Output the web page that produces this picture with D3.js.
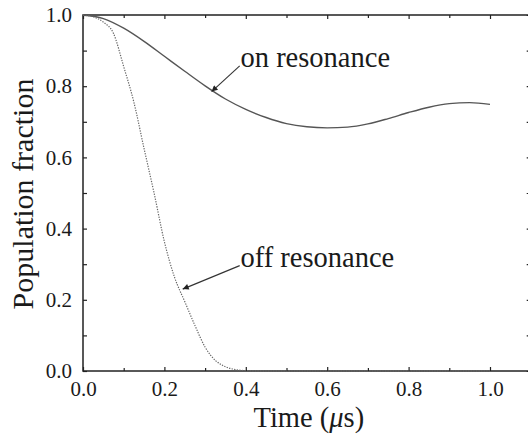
<!DOCTYPE html>
<html>
<head>
<meta charset="utf-8">
<script src="https://cdn.jsdelivr.net/npm/d3@7/dist/d3.min.js"></script>
<style>
  body { margin: 0; background: #fff; }
  svg text { font-family: "Liberation Serif", serif; fill: #1a1a1a; }
</style>
</head>
<body>
<div class="chartDiv"></div>
<script>
// time axis (microseconds) and the two population curves
var onTime = [0, 0.05, 0.1, 0.15, 0.2, 0.25, 0.3, 0.35, 0.4, 0.45, 0.5,
              0.55, 0.6, 0.65, 0.7, 0.75, 0.8, 0.85, 0.9, 0.95, 1.0];
var onRes  = [1.0, 0.99, 0.963, 0.926, 0.884, 0.842, 0.801, 0.764, 0.735, 0.712, 0.695,
              0.686, 0.683, 0.685, 0.694, 0.709, 0.726, 0.741, 0.751, 0.754, 0.749];

var offTime = [0, 0.025, 0.05, 0.075, 0.1, 0.125, 0.15, 0.175, 0.2, 0.225, 0.25,
               0.275, 0.3, 0.325, 0.35, 0.375, 0.4, 0.45, 0.5, 0.6, 0.7, 0.8, 0.9, 1.0];
var offRes  = [1.0, 0.995, 0.98, 0.948, 0.855, 0.755, 0.625, 0.498, 0.363, 0.263, 0.195,
               0.128, 0.067, 0.03, 0.012, 0.004, 0.001, 0, 0, 0, 0, 0, 0, 0];

var xTicks = [0, 0.2, 0.4, 0.6, 0.8, 1.0];
var yTicks = [0, 0.2, 0.4, 0.6, 0.8, 1.0];
var minorTicks = [0.1, 0.3, 0.5, 0.7, 0.9];

var margin = {top: 15, left: 83},
    width = 447.7,
    height = 356;

var svg = d3.select('div.chartDiv').append('svg')
    .attr('width', 528).attr('height', 434)
    .attr('font-family', '"Liberation Serif", serif');

var g = svg.append('g').attr('transform', 'translate(' + margin.left + ',' + margin.top + ')');

var xScale = d3.scaleLinear().domain([0, 1.1]).range([0, width]);
var yScale = d3.scaleLinear().domain([0, 1.0]).range([height, 0]);

var axisColor = '#222';

// frame axes: ticks point inward
function styleAxis(sel) {
  sel.attr('font-family', '"Liberation Serif", serif');
  sel.select('.domain').remove();
  sel.selectAll('line').attr('stroke', axisColor).attr('stroke-width', 1.2);
  sel.selectAll('text').attr('font-size', 21).attr('fill', '#1a1a1a');
}

// bottom
g.append('g').attr('transform', 'translate(0,' + height + ')')
  .call(d3.axisBottom(xScale).tickValues(xTicks).tickFormat(d3.format('.1f'))
        .tickSizeInner(-4).tickSizeOuter(0).tickPadding(10))
  .call(styleAxis);
g.append('g').attr('transform', 'translate(0,' + height + ')')
  .call(d3.axisBottom(xScale).tickValues(minorTicks).tickFormat('')
        .tickSizeInner(-3).tickSizeOuter(0))
  .call(styleAxis);
// top
g.append('g')
  .call(d3.axisTop(xScale).tickValues(xTicks).tickFormat('').tickSizeInner(-4).tickSizeOuter(0))
  .call(styleAxis);
g.append('g')
  .call(d3.axisTop(xScale).tickValues(minorTicks).tickFormat('').tickSizeInner(-3).tickSizeOuter(0))
  .call(styleAxis);
// left
g.append('g')
  .call(d3.axisLeft(yScale).tickValues(yTicks).tickFormat(d3.format('.1f'))
        .tickSizeInner(-4).tickSizeOuter(0).tickPadding(11))
  .call(styleAxis);
g.append('g')
  .call(d3.axisLeft(yScale).tickValues(minorTicks).tickFormat('').tickSizeInner(-4).tickSizeOuter(0))
  .call(styleAxis);
// right
g.append('g').attr('transform', 'translate(' + width + ',0)')
  .call(d3.axisRight(yScale).tickValues(yTicks.concat(minorTicks)).tickFormat('')
        .tickSizeInner(-4).tickSizeOuter(0))
  .call(styleAxis);

// frame
g.append('rect').attr('x', 0).attr('y', 0).attr('width', width).attr('height', height)
  .attr('fill', 'none').attr('stroke', axisColor).attr('stroke-width', 1.5);

// curves
var line = d3.line()
  .x(function(d) { return xScale(d[0]); })
  .y(function(d) { return yScale(d[1]); })
  .curve(d3.curveMonotoneX);

g.append('path').datum(d3.zip(onTime, onRes))
  .attr('d', line).attr('fill', 'none')
  .attr('stroke', '#555').attr('stroke-width', 1.4);

g.append('path').datum(d3.zip(offTime, offRes))
  .attr('d', line).attr('fill', 'none')
  .attr('stroke', '#666').attr('stroke-width', 1.2).attr('stroke-dasharray', '1.3,1.3');

// arrows + labels
svg.append('defs').append('marker')
  .attr('id', 'arrow').attr('viewBox', '0 0 10 10')
  .attr('refX', 10).attr('refY', 5)
  .attr('markerWidth', 11).attr('markerHeight', 6)
  .attr('markerUnits', 'userSpaceOnUse')
  .attr('orient', 'auto')
  .append('path').attr('d', 'M0,0 L10,5 L0,10 Z').attr('fill', '#222');

var notes = [
  {text: 'on resonance',  x0: 0.385, y0: 0.857, x1: 0.316, y1: 0.785, lx: 0.387, ly: 0.855},
  {text: 'off resonance', x0: 0.385, y0: 0.296, x1: 0.245, y1: 0.23,  lx: 0.387, ly: 0.293}
];

g.selectAll('line.note').data(notes).enter().append('line')
  .attr('class', 'note')
  .attr('x1', function(d) { return xScale(d.x0); })
  .attr('y1', function(d) { return yScale(d.y0); })
  .attr('x2', function(d) { return xScale(d.x1); })
  .attr('y2', function(d) { return yScale(d.y1); })
  .attr('stroke', '#333').attr('stroke-width', 1.1)
  .attr('marker-end', 'url(#arrow)');

g.selectAll('text.note').data(notes).enter().append('text')
  .attr('class', 'note')
  .attr('x', function(d) { return xScale(d.lx); })
  .attr('y', function(d) { return yScale(d.ly); })
  .attr('font-size', 28.5)
  .text(function(d) { return d.text; });

// axis titles
var xt = svg.append('text')
  .attr('x', margin.left + width / 2 + 2).attr('y', 427)
  .attr('text-anchor', 'middle').attr('font-size', 28.5);
xt.append('tspan').text('Time (');
xt.append('tspan').attr('font-style', 'italic').text('\u03bc');
xt.append('tspan').text('s)');

svg.append('text')
  .attr('transform', 'translate(33,' + (margin.top + height / 2 + 1) + ') rotate(-90)')
  .attr('text-anchor', 'middle').attr('font-size', 30)
  .text('Population fraction');
</script>
</body>
</html>
